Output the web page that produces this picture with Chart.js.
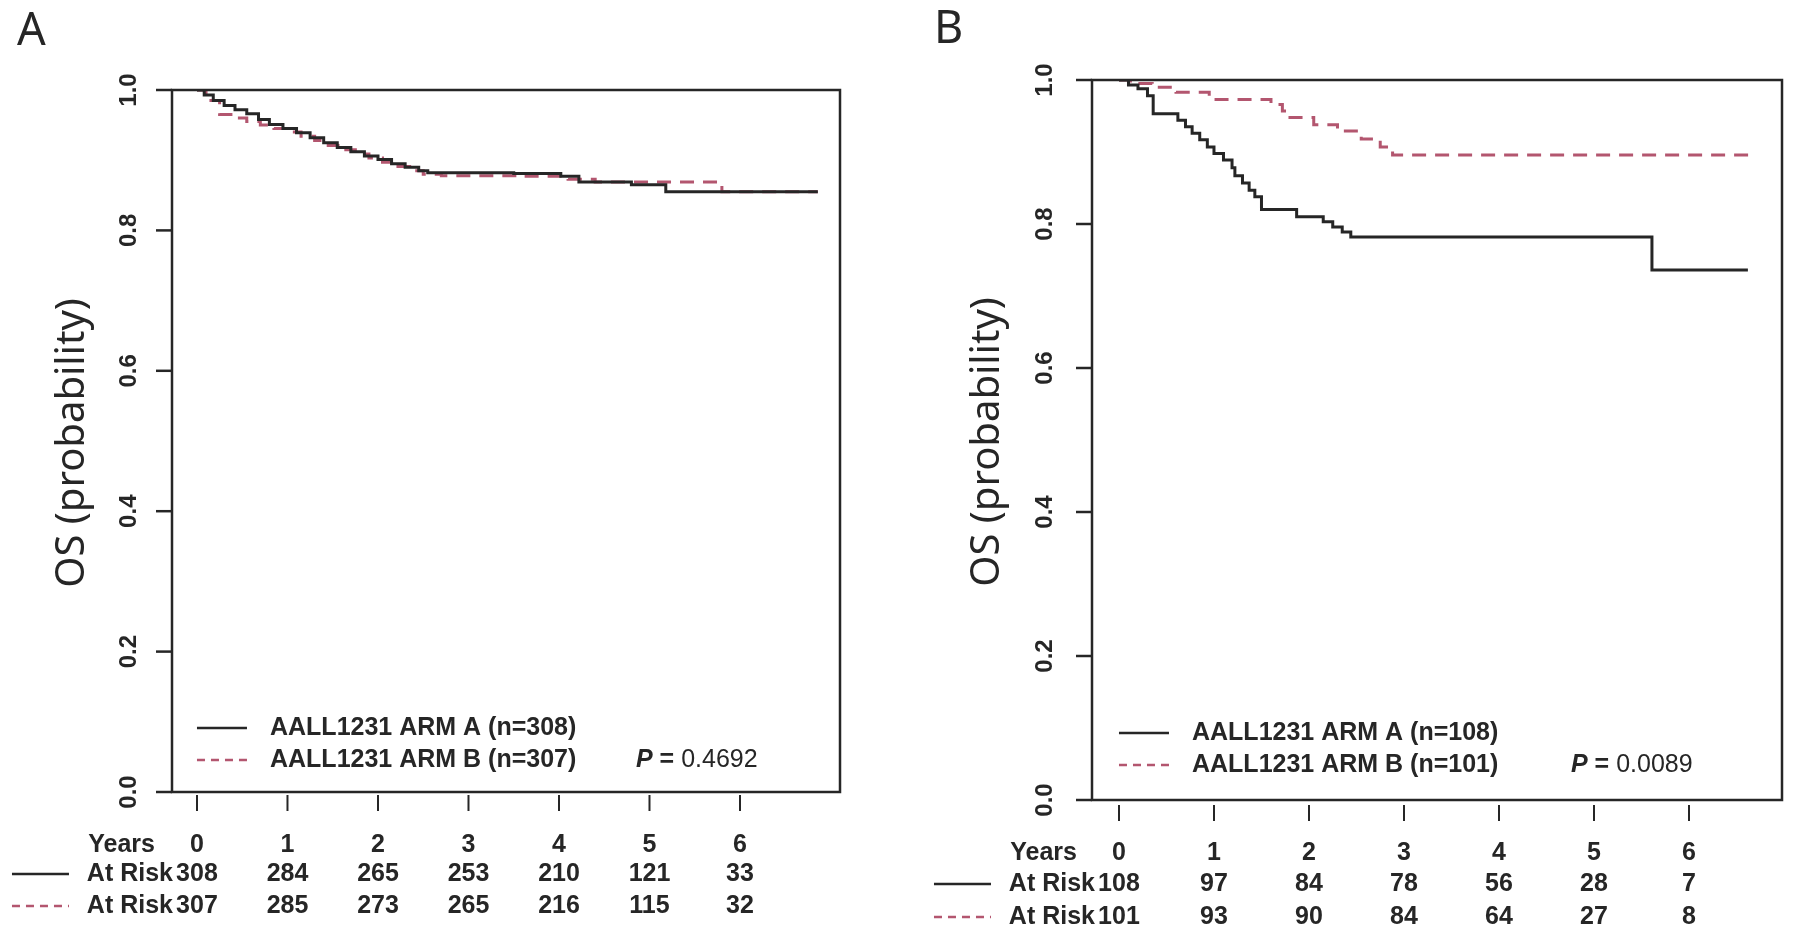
<!DOCTYPE html>
<html>
<head>
<meta charset="utf-8">
<script src="https://cdn.jsdelivr.net/npm/chart.js@4.4.1/dist/chart.umd.min.js"></script>
<style>
  body { margin: 0; background: #fff; width: 1800px; height: 943px; overflow: hidden; position: relative; }
  canvas { position: absolute; top: 0; }
  #chartA { left: 0; }
  #chartB { left: 900px; }
</style>
</head>
<body>
<canvas id="chartA" width="900" height="943"></canvas>
<canvas id="chartB" width="900" height="943"></canvas>
<script>
// shared axis values
var years = [0, 1, 2, 3, 4, 5, 6];
var yTicks = [0, 0.2, 0.4, 0.6, 0.8, 1.0];
var yTickLabels = ['0.0', '0.2', '0.4', '0.6', '0.8', '1.0'];

// panel A - survival steps (time in years, OS probability)
var aArmATime = [0, 0.08, 0.18, 0.30, 0.42, 0.55, 0.68, 0.80, 0.95, 1.10, 1.25, 1.40, 1.55, 1.70, 1.85, 2.00, 2.15, 2.30, 2.45, 2.55, 3.50, 4.02, 4.22, 4.80, 5.18, 6.86];
var aArmASurv = [1, 0.993, 0.985, 0.978, 0.972, 0.966, 0.958, 0.951, 0.945, 0.939, 0.932, 0.925, 0.918, 0.912, 0.906, 0.901, 0.895, 0.890, 0.885, 0.882, 0.881, 0.877, 0.869, 0.865, 0.855, 0.855];
var aArmBTime = [0, 0.10, 0.25, 0.40, 0.55, 0.70, 0.85, 1.00, 1.15, 1.30, 1.45, 1.60, 1.75, 1.90, 2.05, 2.20, 2.35, 2.50, 2.70, 3.60, 4.10, 4.40, 5.80, 6.86];
var aArmBSurv = [1, 0.985, 0.965, 0.960, 0.955, 0.950, 0.945, 0.940, 0.934, 0.928, 0.921, 0.915, 0.909, 0.903, 0.897, 0.891, 0.885, 0.880, 0.878, 0.877, 0.873, 0.869, 0.855, 0.855];
var aRiskArmA = [308, 284, 265, 253, 210, 121, 33];
var aRiskArmB = [307, 285, 273, 265, 216, 115, 32];
var aLegend = ['AALL1231 ARM A (n=308)', 'AALL1231 ARM B (n=307)'];
var aPValue = '0.4692';

// panel B
var bArmATime = [0, 0.10, 0.20, 0.30, 0.36, 0.62, 0.70, 0.77, 0.85, 0.93, 1.00, 1.10, 1.19, 1.22, 1.30, 1.37, 1.43, 1.50, 1.87, 2.15, 2.25, 2.35, 2.44, 5.61, 6.62];
var bArmASurv = [1, 0.993, 0.988, 0.978, 0.953, 0.944, 0.935, 0.926, 0.917, 0.907, 0.898, 0.889, 0.878, 0.867, 0.857, 0.847, 0.838, 0.820, 0.810, 0.803, 0.796, 0.789, 0.782, 0.736, 0.736];
var bArmBTime = [0, 0.12, 0.35, 0.60, 0.95, 1.60, 1.72, 1.80, 2.05, 2.30, 2.55, 2.75, 2.88, 6.67];
var bArmBSurv = [1, 0.995, 0.990, 0.983, 0.973, 0.966, 0.957, 0.948, 0.938, 0.929, 0.918, 0.907, 0.896, 0.896];
var bRiskArmA = [108, 97, 84, 78, 56, 28, 7];
var bRiskArmB = [101, 93, 90, 84, 64, 27, 8];
var bLegend = ['AALL1231 ARM A (n=108)', 'AALL1231 ARM B (n=101)'];
var bPValue = '0.0089';

var ink = '#262626';
var red = '#b3566f';
var boldFont = 'bold 25px "Liberation Sans", Arial, sans-serif';

function steps(t, s) {
  return t.map(function(x, i) { return { x: x, y: s[i] }; });
}

function hline(c, x1, y1, x2, y2) {
  c.beginPath();
  c.moveTo(x1, y1);
  c.lineTo(x2, y2);
  c.stroke();
}

function rotText(c, txt, x, y) {
  c.save();
  c.translate(x, y);
  c.rotate(-Math.PI / 2);
  c.fillText(txt, 0, 0);
  c.restore();
}

// draws the R-style box, ticks, labels, legend and at-risk table
function decor(cfg) {
  return {
    id: 'decor',
    afterDraw: function(chart) {
      var c = chart.ctx, a = chart.chartArea;
      var xs = chart.scales.x, ys = chart.scales.y;
      var x0 = xs.getPixelForValue(0);
      c.save();
      c.strokeStyle = ink;
      c.fillStyle = ink;
      c.lineWidth = 2.5;
      c.setLineDash([]);
      c.strokeRect(a.left, a.top, a.right - a.left, a.bottom - a.top);

      // y axis
      c.font = 'bold 24px "Liberation Sans", Arial, sans-serif';
      c.textAlign = 'center';
      c.textBaseline = 'middle';
      yTicks.forEach(function(v, i) {
        var y = ys.getPixelForValue(v);
        hline(c, a.left - 16, y, a.left, y);
        rotText(c, yTickLabels[i], cfg.yLabelX, y);
      });
      c.font = '40px "Noto Sans", sans-serif';
      rotText(c, 'OS (probability)', cfg.titleX, cfg.titleY);

      // x ticks
      c.lineWidth = 2;
      years.forEach(function(t) {
        var x = xs.getPixelForValue(t);
        hline(c, x, a.bottom + cfg.tickGap, x, a.bottom + cfg.tickGap + 16);
      });

      // panel letter
      c.font = '45px "Noto Sans", sans-serif';
      c.textAlign = 'left';
      c.textBaseline = 'alphabetic';
      c.fillText(cfg.letter, cfg.letterX, cfg.letterY);

      // legend
      c.lineWidth = 2.5;
      c.font = boldFont;
      c.textBaseline = 'middle';
      hline(c, x0, cfg.legY[0], x0 + 50, cfg.legY[0]);
      c.strokeStyle = red;
      c.setLineDash([8, 6]);
      hline(c, x0, cfg.legY[1], x0 + 50, cfg.legY[1]);
      c.setLineDash([]);
      c.strokeStyle = ink;
      c.fillText(cfg.legend[0], x0 + 73, cfg.legY[0]);
      c.fillText(cfg.legend[1], x0 + 73, cfg.legY[1]);
      c.font = 'bold italic 25px "Liberation Sans", Arial, sans-serif';
      c.fillText('P', cfg.pX, cfg.legY[1]);
      var pw = c.measureText('P ').width;
      c.font = boldFont;
      c.fillText('=', cfg.pX + pw, cfg.legY[1]);
      var ew = c.measureText('= ').width;
      c.font = '25px "Liberation Sans", Arial, sans-serif';
      c.fillText(cfg.pValue, cfg.pX + pw + ew, cfg.legY[1]);

      // at-risk table
      c.font = boldFont;
      c.textAlign = 'right';
      c.fillText('Years', x0 - 42, cfg.rowY[0]);
      c.fillText('At Risk', x0 - 24, cfg.rowY[1]);
      c.fillText('At Risk', x0 - 24, cfg.rowY[2]);
      c.textAlign = 'center';
      years.forEach(function(t, i) {
        var x = xs.getPixelForValue(t);
        c.fillText(String(t), x, cfg.rowY[0]);
        c.fillText(String(cfg.riskA[i]), x, cfg.rowY[1]);
        c.fillText(String(cfg.riskB[i]), x, cfg.rowY[2]);
      });
      hline(c, x0 - 185, cfg.rowY[1], x0 - 128, cfg.rowY[1]);
      c.strokeStyle = red;
      c.setLineDash([8, 6]);
      hline(c, x0 - 185, cfg.rowY[2], x0 - 128, cfg.rowY[2]);
      c.restore();
    }
  };
}

function makePanel(id, cfg, armA, armB) {
  return new Chart(document.getElementById(id), {
    type: 'line',
    data: {
      datasets: [{
        label: 'ARM A',
        data: armA,
        borderColor: ink,
        borderWidth: 3,
        stepped: true,
        pointRadius: 0,
        fill: false
      }, {
        label: 'ARM B',
        data: armB,
        borderColor: red,
        borderWidth: 3,
        borderDash: [14, 9],
        stepped: true,
        pointRadius: 0,
        fill: false
      }]
    },
    options: {
      responsive: false,
      animation: false,
      devicePixelRatio: 1,
      layout: { padding: cfg.padding },
      plugins: { legend: { display: false }, tooltip: { enabled: false } },
      scales: {
        x: { type: 'linear', min: cfg.xMin, max: cfg.xMax, display: false },
        y: { type: 'linear', min: 0, max: 1, display: false }
      }
    },
    plugins: [decor(cfg)]
  });
}

makePanel('chartA', {
  padding: { left: 172, top: 90, right: 60, bottom: 151 },
  xMin: -0.276, xMax: 7.105,
  yLabelX: 129, titleX: 73, titleY: 443,
  tickGap: 3,
  letter: 'A', letterX: 17, letterY: 45,
  legY: [728, 760], pX: 636,
  rowY: [845, 874, 906],
  legend: aLegend, pValue: aPValue,
  riskA: aRiskArmA, riskB: aRiskArmB
}, steps(aArmATime, aArmASurv), steps(aArmBTime, aArmBSurv));

makePanel('chartB', {
  padding: { left: 192, top: 80, right: 18, bottom: 143 },
  xMin: -0.284, xMax: 6.979,
  yLabelX: 145, titleX: 88, titleY: 442,
  tickGap: 5,
  letter: 'B', letterX: 34, letterY: 43,
  legY: [733, 765], pX: 671,
  rowY: [853, 884, 917],
  legend: bLegend, pValue: bPValue,
  riskA: bRiskArmA, riskB: bRiskArmB
}, steps(bArmATime, bArmASurv), steps(bArmBTime, bArmBSurv));
</script>
</body>
</html>
